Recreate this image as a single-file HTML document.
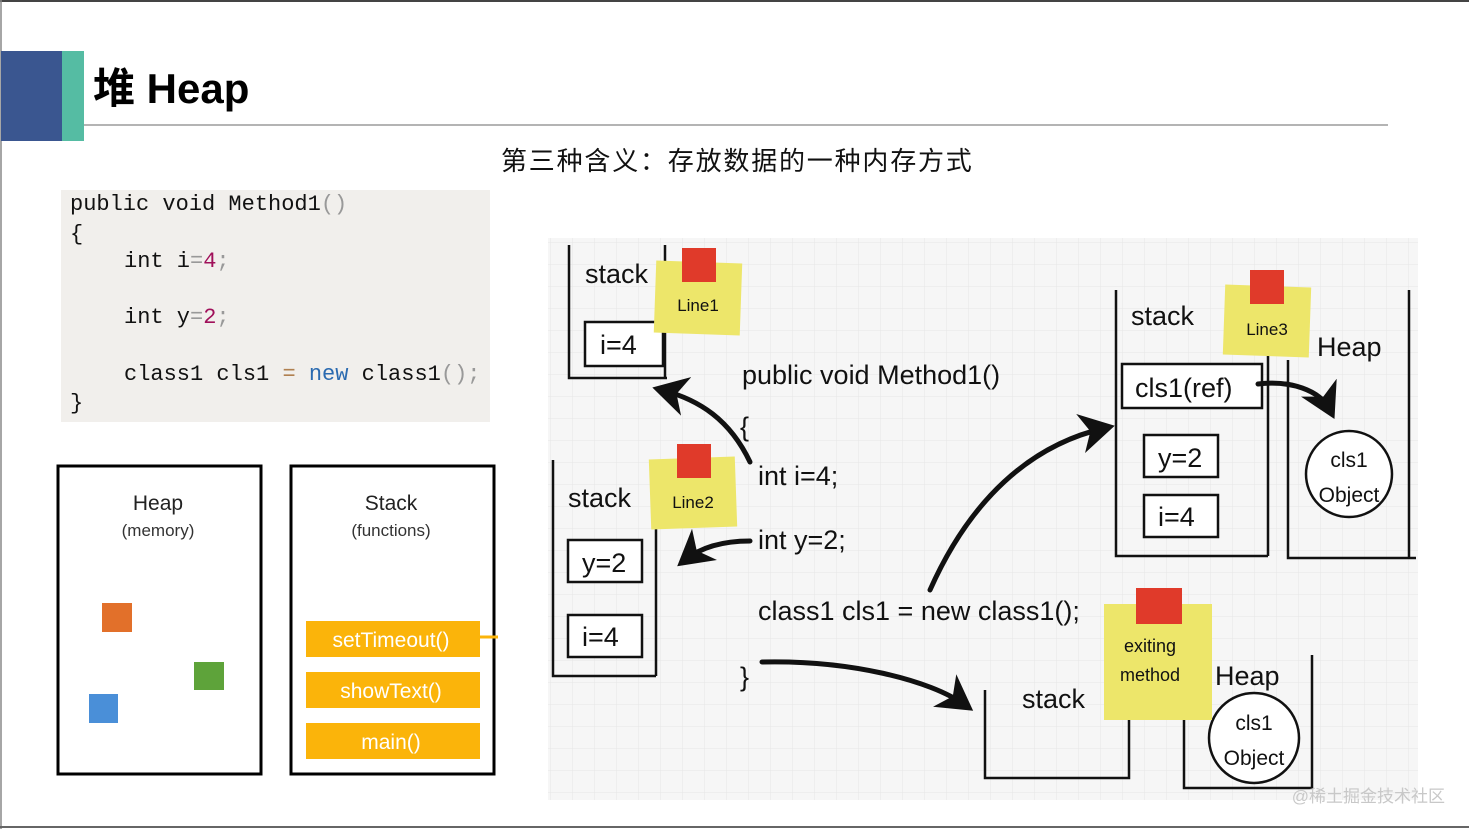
<!DOCTYPE html>
<html><head><meta charset="utf-8"><style>
html,body{margin:0;padding:0;background:#fff;}
svg{display:block;}
.hw{font-family:"Liberation Sans","DejaVu Sans",sans-serif;fill:#111;}
.mono{font-family:"Liberation Mono",monospace;font-size:22px;fill:#111;}
</style></head><body>
<svg width="1469" height="829" viewBox="0 0 1469 829" xmlns="http://www.w3.org/2000/svg">
<defs>
<pattern id="grid" width="22" height="22" patternUnits="userSpaceOnUse">
<path d="M22 0H0V22" fill="none" stroke="#e6e6e6" stroke-width="1"/>
</pattern>
<marker id="ah" markerWidth="8" markerHeight="8" refX="5" refY="4" orient="auto" markerUnits="strokeWidth">
<path d="M0,0 L7,4 L0,8 L2,4z" fill="#111"/>
</marker>
</defs>
<rect width="1469" height="829" fill="#fff"/>
<line x1="0" y1="1" x2="1469" y2="1" stroke="#444" stroke-width="2"/>
<line x1="1" y1="0" x2="1" y2="829" stroke="#888" stroke-width="1.5"/>
<line x1="0" y1="827" x2="1469" y2="827" stroke="#666" stroke-width="2"/>
<!-- header -->
<rect x="1" y="51" width="61" height="90" fill="#3a5690"/>
<rect x="62" y="51" width="22" height="90" fill="#55bca3"/>
<text x="93" y="103" font-family="Liberation Sans,'Noto Sans CJK SC',sans-serif" font-weight="bold" font-size="42" fill="#000">堆 Heap</text>
<line x1="84" y1="125" x2="1388" y2="125" stroke="#888" stroke-width="1.2"/>
<text x="501" y="170" font-family="Liberation Sans,'Noto Sans CJK SC',sans-serif" font-size="26" letter-spacing="1.8" fill="#111">第三种含义：存放数据的一种内存方式</text>
<!-- code block -->
<rect x="61" y="190" width="429" height="232" fill="#f1efec"/>
<text class="mono" x="70" y="210">public void Method1<tspan fill="#999">()</tspan></text>
<text class="mono" x="70" y="240" fill="#999">{</text>
<text class="mono" x="124" y="267">int i<tspan fill="#999">=</tspan><tspan fill="#a0105a">4</tspan><tspan fill="#999">;</tspan></text>
<text class="mono" x="124" y="323">int y<tspan fill="#999">=</tspan><tspan fill="#a0105a">2</tspan><tspan fill="#999">;</tspan></text>
<text class="mono" x="124" y="380">class1 cls1 <tspan fill="#b08050">=</tspan> <tspan fill="#2a6ab0">new</tspan> class1<tspan fill="#999">();</tspan></text>
<text class="mono" x="70" y="409" fill="#999">}</text>
<!-- heap/stack boxes -->
<rect x="58" y="466" width="203" height="308" fill="#fff" stroke="#000" stroke-width="3"/>
<text x="158" y="510" text-anchor="middle" font-family="Liberation Sans,sans-serif" font-size="21" fill="#222">Heap</text>
<text x="158" y="536" text-anchor="middle" font-family="Liberation Sans,sans-serif" font-size="17" fill="#333">(memory)</text>
<rect x="102" y="603" width="30" height="29" fill="#e2702a"/>
<rect x="194" y="662" width="30" height="28" fill="#5ea33a"/>
<rect x="89" y="694" width="29" height="29" fill="#4a8fd8"/>
<rect x="291" y="466" width="203" height="308" fill="#fff" stroke="#000" stroke-width="3"/>
<text x="391" y="510" text-anchor="middle" font-family="Liberation Sans,sans-serif" font-size="21" fill="#222">Stack</text>
<text x="391" y="536" text-anchor="middle" font-family="Liberation Sans,sans-serif" font-size="17" fill="#333">(functions)</text>
<rect x="306" y="621" width="174" height="36" fill="#fbb40a"/>
<line x1="480" y1="637" x2="498" y2="637" stroke="#fbb40a" stroke-width="3"/>
<text x="391" y="647" text-anchor="middle" font-family="Liberation Sans,sans-serif" font-size="21" fill="#fff">setTimeout()</text>
<rect x="306" y="672" width="174" height="36" fill="#fbb40a"/>
<text x="391" y="698" text-anchor="middle" font-family="Liberation Sans,sans-serif" font-size="21" fill="#fff">showText()</text>
<rect x="306" y="723" width="174" height="36" fill="#fbb40a"/>
<text x="391" y="749" text-anchor="middle" font-family="Liberation Sans,sans-serif" font-size="21" fill="#fff">main()</text>
<!-- diagram -->
<rect x="548" y="238" width="870" height="562" fill="#f6f6f6"/>
<rect x="548" y="238" width="870" height="562" fill="url(#grid)"/>
<g stroke="#111" stroke-width="2.5" fill="none">
<path d="M569 245V378H667M665 245V378"/>
<rect x="585" y="322" width="78" height="44" fill="#fff"/>
<path d="M553 460V676H656M656 460V676"/>
<rect x="568" y="540" width="74" height="42" fill="#fff"/>
<rect x="568" y="615" width="74" height="42" fill="#fff"/>
<path d="M1116 290V556H1268M1268 290V556"/>
<rect x="1122" y="364" width="140" height="44" fill="#fff"/>
<rect x="1144" y="435" width="74" height="42" fill="#fff"/>
<rect x="1144" y="495" width="74" height="42" fill="#fff"/>
<path d="M1288 360V558H1416M1409 290V558"/>
<circle cx="1349" cy="474" r="43" fill="#fff"/>
<path d="M985 690V778H1129V700"/>
<path d="M1184 720V788H1312V655"/>
<circle cx="1254" cy="738" r="45" fill="#fff"/>
</g>
<g stroke="#111" stroke-width="5" fill="none" stroke-linecap="round">
<path d="M750 462 C730 420 700 400 662 390" marker-end="url(#ah)"/>
<path d="M750 541 C720 541 700 548 685 560" marker-end="url(#ah)"/>
<path d="M930 590 C970 500 1030 445 1105 428" marker-end="url(#ah)"/>
<path d="M762 662 C850 660 930 680 965 705" marker-end="url(#ah)"/>
<path d="M1258 384 C1290 380 1320 390 1330 410" marker-end="url(#ah)"/>
</g>
<g>
<rect x="655" y="262" width="86" height="72" fill="#ede66a" transform="rotate(2 698 298)"/>
<rect x="682" y="248" width="34" height="34" fill="#e03a2a"/>
<text x="698" y="311" text-anchor="middle" class="hw" font-size="17">Line1</text>
<rect x="650" y="458" width="86" height="70" fill="#ede66a" transform="rotate(-2 693 493)"/>
<rect x="677" y="444" width="34" height="34" fill="#e03a2a"/>
<text x="693" y="508" text-anchor="middle" class="hw" font-size="17">Line2</text>
<rect x="1224" y="286" width="86" height="70" fill="#ede66a" transform="rotate(2 1267 321)"/>
<rect x="1250" y="270" width="34" height="34" fill="#e03a2a"/>
<text x="1267" y="335" text-anchor="middle" class="hw" font-size="17">Line3</text>
<rect x="1104" y="604" width="108" height="116" fill="#ede66a"/>
<rect x="1136" y="588" width="46" height="36" fill="#e03a2a"/>
<text x="1150" y="652" text-anchor="middle" class="hw" font-size="18">exiting</text>
<text x="1150" y="681" text-anchor="middle" class="hw" font-size="18">method</text>
</g>
<g class="hw" font-size="27">
<text x="585" y="283">stack</text>
<text x="600" y="354">i=4</text>
<text x="568" y="507">stack</text>
<text x="582" y="572">y=2</text>
<text x="582" y="646">i=4</text>
<text x="742" y="384">public void Method1()</text>
<text x="740" y="436">{</text>
<text x="758" y="485">int i=4;</text>
<text x="758" y="549">int y=2;</text>
<text x="758" y="620">class1 cls1 = new class1();</text>
<text x="740" y="686">}</text>
<text x="1131" y="325">stack</text>
<text x="1317" y="356">Heap</text>
<text x="1135" y="397">cls1(ref)</text>
<text x="1158" y="467">y=2</text>
<text x="1158" y="526">i=4</text>
<text x="1022" y="708">stack</text>
<text x="1215" y="685">Heap</text>
</g>
<g class="hw" font-size="21" text-anchor="middle">
<text x="1349" y="467">cls1</text>
<text x="1349" y="502">Object</text>
<text x="1254" y="730">cls1</text>
<text x="1254" y="765">Object</text>
</g>
<text x="1445" y="802" text-anchor="end" font-family="Liberation Sans,'Noto Sans CJK SC',sans-serif" font-size="17" fill="#c8c8c8">@稀土掘金技术社区</text>
</svg>
</body></html>
